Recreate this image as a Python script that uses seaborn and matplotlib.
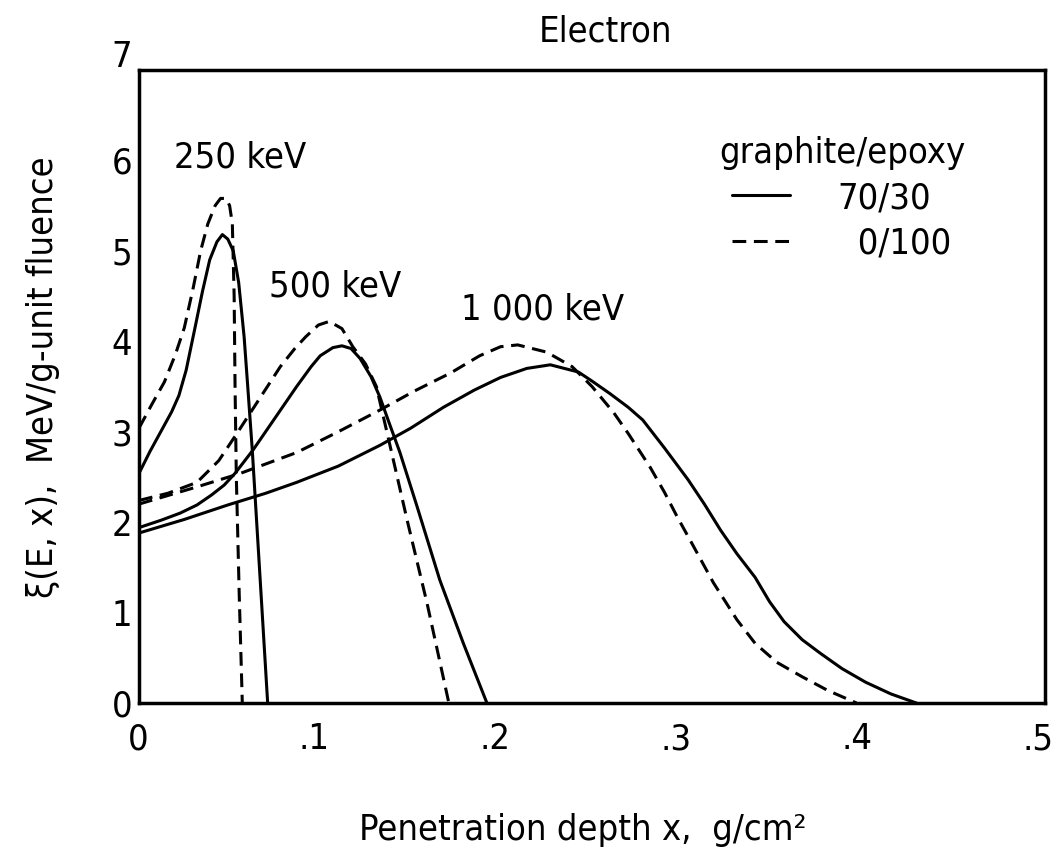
import matplotlib
matplotlib.use('Agg')
import matplotlib.pyplot as plt
import matplotlib.transforms as mtransforms
from matplotlib.lines import Line2D
import seaborn as sns
import pandas as pd

# --- data: depth x (g/cm2) vs xi(E, x) ---
x_250_solid = [0, 0.006, 0.012, 0.018, 0.022, 0.026, 0.031, 0.035, 0.039, 0.043,
               0.046, 0.049, 0.052, 0.055, 0.058, 0.060, 0.0625, 0.066, 0.071]
y_250_solid = [2.54, 2.78, 3.00, 3.22, 3.40, 3.68, 4.16, 4.55, 4.90, 5.10,
               5.18, 5.13, 5.00, 4.65, 4.05, 3.50, 2.80, 1.65, 0.0]

x_250_dash = [0, 0.007, 0.014, 0.020, 0.025, 0.030, 0.034, 0.038, 0.042, 0.045,
              0.048, 0.050, 0.0515, 0.0525, 0.053, 0.0537, 0.0553, 0.057]
y_250_dash = [3.04, 3.30, 3.55, 3.85, 4.15, 4.60, 5.00, 5.30, 5.50, 5.58,
              5.58, 5.50, 5.30, 4.50, 3.50, 2.50, 1.20, 0.0]

x_500_solid = [0, 0.012, 0.0227, 0.032, 0.040, 0.047, 0.053, 0.063, 0.075, 0.087,
               0.095, 0.100, 0.107, 0.112, 0.117, 0.122, 0.128, 0.133, 0.138,
               0.144, 0.1535, 0.166, 0.179, 0.192]
y_500_solid = [1.94, 2.02, 2.10, 2.19, 2.30, 2.41, 2.54, 2.80, 3.15, 3.50,
               3.72, 3.84, 3.93, 3.95, 3.92, 3.81, 3.61, 3.38, 3.10,
               2.77, 2.17, 1.36, 0.66, 0.0]

x_500_dash = [0, 0.016, 0.032, 0.044, 0.054, 0.066, 0.078, 0.086, 0.092, 0.099,
              0.105, 0.112, 0.118, 0.125, 0.131, 0.137, 0.148, 0.159, 0.171]
y_500_dash = [2.24, 2.32, 2.44, 2.68, 2.98, 3.35, 3.72, 3.92, 4.05, 4.18,
              4.22, 4.14, 3.94, 3.75, 3.50, 2.98, 2.02, 1.10, 0.0]

x_1000_solid = [0, 0.025, 0.049, 0.070, 0.087, 0.110, 0.133, 0.150, 0.168, 0.185,
                0.1995, 0.214, 0.227, 0.2425, 0.250, 0.260, 0.270, 0.278, 0.290,
                0.303, 0.312, 0.321, 0.330, 0.340, 0.348, 0.356, 0.366, 0.376,
                0.388, 0.401, 0.415, 0.429]
y_1000_solid = [1.88, 2.03, 2.19, 2.32, 2.44, 2.62, 2.85, 3.04, 3.27, 3.46,
                3.60, 3.70, 3.74, 3.66, 3.56, 3.42, 3.27, 3.13, 2.82,
                2.47, 2.20, 1.91, 1.65, 1.39, 1.12, 0.90, 0.70, 0.55,
                0.38, 0.23, 0.10, 0.0]

x_1000_dash = [0, 0.032, 0.056, 0.087, 0.110, 0.133, 0.152, 0.172, 0.188, 0.1995,
               0.209, 0.225, 0.239, 0.250, 0.262, 0.270, 0.282, 0.290, 0.297,
               0.305, 0.317, 0.330, 0.340, 0.352, 0.366, 0.380, 0.396]
y_1000_dash = [2.20, 2.39, 2.54, 2.77, 3.00, 3.24, 3.45, 3.65, 3.84, 3.94,
               3.96, 3.88, 3.72, 3.50, 3.21, 2.98, 2.61, 2.33, 2.06,
               1.77, 1.33, 0.92, 0.66, 0.45, 0.29, 0.14, 0.0]

energy_labels = ['250 keV', '500 keV', '1 000 keV']
label_x = [0.0558, 0.108, 0.2227]
label_y = [6.03, 4.61, 4.35]

materials = ['70/30', '0/100']
x_ticks = [0, 0.1, 0.2, 0.3, 0.4, 0.5]
x_tick_labels = ['0', '.1', '.2', '.3', '.4', '.5']
y_ticks = [0, 1, 2, 3, 4, 5, 6, 7]

curves = [
    ('250 keV', '70/30', x_250_solid, y_250_solid),
    ('250 keV', '0/100', x_250_dash, y_250_dash),
    ('500 keV', '70/30', x_500_solid, y_500_solid),
    ('500 keV', '0/100', x_500_dash, y_500_dash),
    ('1 000 keV', '70/30', x_1000_solid, y_1000_solid),
    ('1 000 keV', '0/100', x_1000_dash, y_1000_dash),
]
frames = []
for energy, mat, xs, ys in curves:
    frames.append(pd.DataFrame({'x': xs, 'y': ys, 'energy': energy, 'material': mat,
                                'curve': energy + ' ' + mat}))
df = pd.concat(frames, ignore_index=True)

sns.set_style('white')
plt.rcParams['font.family'] = ['DejaVu Sans']
plt.rcParams['font.stretch'] = 'condensed'
for key in ['text.color', 'axes.labelcolor', 'xtick.color', 'ytick.color']:
    plt.rcParams[key] = 'black'

LW = 2.2
dash_style = (4.5, 2.5)
FS = 26

fig = plt.figure(figsize=(10.58, 8.59), dpi=100)
ax = fig.add_axes([0.1314, 0.1816, 0.8563, 0.7369])

sns.lineplot(data=df, x='x', y='y', units='curve', estimator=None, style='material',
             style_order=materials, dashes={'70/30': '', '0/100': dash_style},
             color='black', linewidth=LW, sort=False, legend=False, ax=ax)

for txt, tx, ty in zip(energy_labels, label_x, label_y):
    ax.text(tx, ty, txt, ha='center', va='center', fontsize=FS)

ax.set_xlim(0, 0.5)
ax.set_ylim(0, 7)
ax.set_xticks(x_ticks)
ax.set_xticklabels(x_tick_labels)
ax.set_yticks(y_ticks)
ax.set_yticklabels([str(v) for v in y_ticks[:-1]] + [''])
ax.annotate('7', xy=(0, 7), xytext=(-17, 13), textcoords='offset pixels',
            ha='center', va='center', fontsize=FS)

ax.tick_params(axis='both', direction='in', length=8, width=2.2, labelsize=FS)
ax.tick_params(axis='x', pad=14)
ax.tick_params(axis='y', pad=5)
for sp in ax.spines.values():
    sp.set_linewidth(2.5)
    sp.set_color('black')

# digit sits on the tick, the leading dot hangs to its left
shift = mtransforms.ScaledTranslation(9 / 100, 0, fig.dpi_scale_trans)
for lab in ax.get_xticklabels():
    lab.set_horizontalalignment('right')
    lab.set_transform(lab.get_transform() + shift)

ax.set_xlabel('Penetration depth x,  g/cm²', fontsize=FS, va='center')
ax.xaxis.set_label_coords(0.49, -0.2)
ax.set_ylabel('ξ(E, x),  MeV/g-unit fluence', fontsize=FS, va='center')
ax.yaxis.set_label_coords(-0.106, 0.515)

fig.text(0.572, 0.963, 'Electron', ha='center', va='center', fontsize=FS)

handles = [Line2D([], [], color='black', linewidth=LW),
           Line2D([], [], color='black', linewidth=LW, dashes=dash_style)]
leg = ax.legend(handles, ['70/30', '  0/100'], title='graphite/epoxy',
                loc='upper left', bbox_to_anchor=(0.62, 0.925), frameon=False,
                fontsize=FS, title_fontsize=FS, handlelength=1.6,
                handletextpad=1.3, labelspacing=0.32, borderpad=0)

fig.savefig('out.png', dpi=100, facecolor='white')
